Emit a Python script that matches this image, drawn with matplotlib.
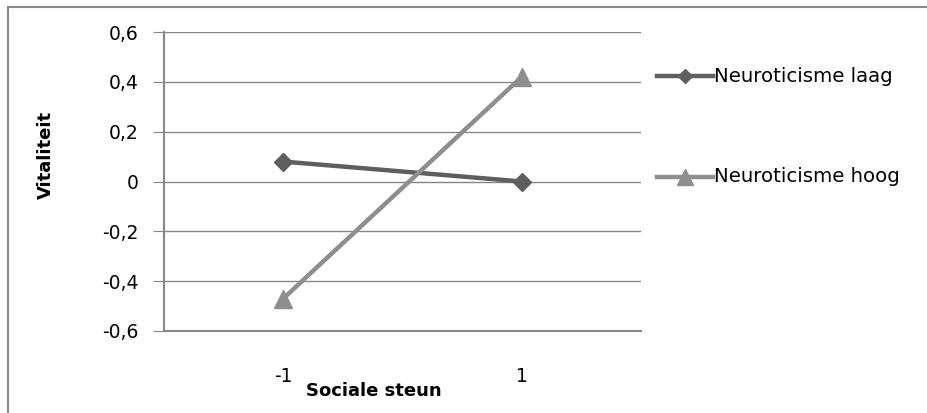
import matplotlib
matplotlib.use("Agg")
import matplotlib.pyplot as plt
from matplotlib.lines import Line2D

# data
categories = ["-1", "1"]
laag = [0.08, 0.0]
hoog = [-0.47, 0.42]
series_names = ["Neuroticisme laag", "Neuroticisme hoog"]
yticks = [-0.6, -0.4, -0.2, 0.0, 0.2, 0.4, 0.6]
ytick_labels = ["-0,6", "-0,4", "-0,2", "0", "0,2", "0,4", "0,6"]

C_LAAG = "#5e5e5e"
C_HOOG = "#8e8e8e"
C_GRID = "#878787"
FONT = "DejaVu Sans"
FS = 13.5

W, H = 928, 413
fig = plt.figure(figsize=(W / 100, H / 100), dpi=100)


def fx(px):
    return px / W


def fy(py):
    return 1 - py / H


# outer chart frame: only left and top edges visible
fig.add_artist(Line2D([fx(8), fx(8)], [0, fy(7)], color="#8a8a8a", lw=1.5))
fig.add_artist(Line2D([fx(8), 1], [fy(7), fy(7)], color="#8a8a8a", lw=1.5))

left, right, top, bottom = 164, 641, 32, 331
ax = fig.add_axes([fx(left), fy(bottom), fx(right - left), (bottom - top) / H])

x = [0, 1]
ax.plot(x, laag, color=C_LAAG, lw=3.2, marker="D", ms=9, zorder=3)
ax.plot(x, hoog, color=C_HOOG, lw=3.2, marker="^", ms=13, zorder=3)

ax.set_xlim(-0.5, 1.5)
ax.set_ylim(-0.6, 0.6)
ax.set_yticks(yticks)
ax.set_yticklabels(ytick_labels, fontsize=FS, family=FONT)
ax.set_xticks(x)
ax.set_xticklabels(categories, fontsize=FS, family=FONT)
ax.tick_params(axis="y", length=8, color=C_GRID, pad=10)
ax.tick_params(axis="x", length=0, pad=26)
ax.yaxis.grid(True, color=C_GRID, lw=1)
ax.set_axisbelow(True)
for s in ["top", "right"]:
    ax.spines[s].set_visible(False)
for s in ["left", "bottom"]:
    ax.spines[s].set_color(C_GRID)
    ax.spines[s].set_linewidth(1.5)

fig.text(fx(46), fy(155), "Vitaliteit", fontsize=13, family=FONT,
         fontweight="bold", rotation=90, ha="center", va="center")
fig.text(fx(374), fy(391), "Sociale steun", fontsize=13, family=FONT,
         fontweight="bold", ha="center", va="center")

# legend, drawn by hand to keep the wide row spacing
leg_rows = [(76, C_LAAG, "D", 7), (177, C_HOOG, "^", 12)]
for (ly, col, mk, ms), name in zip(leg_rows, series_names):
    fig.add_artist(Line2D([fx(657), fx(713)], [fy(ly), fy(ly)], color=col, lw=3.2))
    fig.add_artist(Line2D([fx(685)], [fy(ly)], color=col, marker=mk, ms=ms, lw=0))
    fig.text(fx(714), fy(ly), name, fontsize=14.2, family=FONT, ha="left", va="center")

fig.savefig("out.png", dpi=100, facecolor="white")
